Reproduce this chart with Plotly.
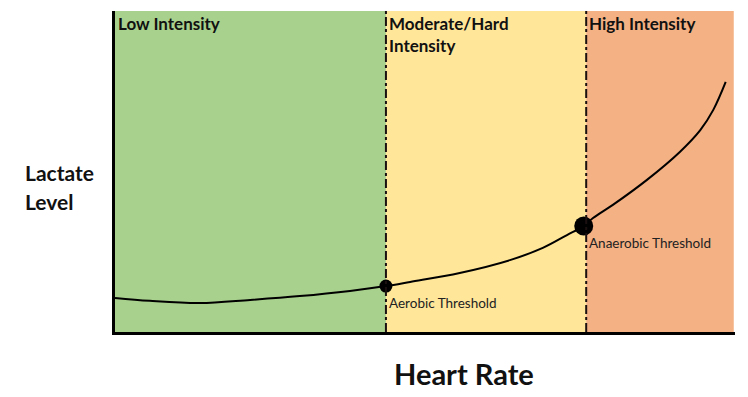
import plotly.graph_objects as go

# Data (heart-rate axis 0-100, lactate axis 0-100, unitless)
curve_x = [0, 5.6, 13.7, 21.8, 29.8, 37.9, 43.7, 47.6, 55.6, 63.7, 69.0, 72.9, 75.6, 77.1, 80.3, 85.8, 91.1, 94.4, 96.5, 98.5]
curve_y = [10.6, 9.7, 9.0, 10.0, 11.2, 12.8, 14.3, 15.6, 18.4, 22.4, 26.2, 30.2, 33.0, 35.5, 39.6, 47.4, 56.1, 62.9, 69.2, 77.9]
zone_edges = [0, 43.7, 76.0, 99.8]
zone_names = ["Low Intensity", "Moderate/Hard<br>Intensity", "High Intensity"]
zone_colors = ["#A9D18E", "#FFE699", "#F4B183"]
threshold_lines = [43.7, 76.0]
threshold_x = [43.7, 75.6]
threshold_y = [14.3, 33.0]
threshold_names = ["Aerobic Threshold", "Anaerobic Threshold"]
threshold_sizes = [13, 19]
y_title_lines = ["Lactate", "Level"]
x_title = "Heart Rate"

FONT = "Lato"

fig = go.Figure()
fig.add_trace(go.Scatter(x=curve_x, y=curve_y, mode="lines",
                         line=dict(color="black", width=2, shape="spline", smoothing=1.0),
                         hoverinfo="skip", showlegend=False))
fig.add_trace(go.Scatter(x=threshold_x, y=threshold_y, mode="markers",
                         marker=dict(color="black", size=threshold_sizes, symbol="circle",
                                     opacity=1, line=dict(width=0)),
                         showlegend=False))

shapes = []
for i, c in enumerate(zone_colors):
    shapes.append(dict(type="rect", xref="x", yref="y", x0=zone_edges[i], x1=zone_edges[i + 1],
                       y0=0, y1=100, fillcolor=c, line=dict(width=0), layer="below"))
for tx in threshold_lines:
    shapes.append(dict(type="line", xref="x", yref="y", x0=tx, x1=tx, y0=0, y1=100,
                       line=dict(color="#1a1010", width=2, dash="dashdot"), layer="above"))

annotations = []
for i, name in enumerate(zone_names):
    annotations.append(dict(x=zone_edges[i], y=100, xref="x", yref="y", text=name,
                            showarrow=False, xanchor="left", yanchor="top", align="left",
                            xshift=1, yshift=0,
                            font=dict(family=FONT, size=17, color="#111111", weight="bold")))
for tx, ty, name in zip(threshold_lines, threshold_y, threshold_names):
    annotations.append(dict(x=tx, y=ty, xref="x", yref="y", text=name, showarrow=False,
                            xanchor="left", yanchor="top", xshift=1, yshift=-7,
                            font=dict(family=FONT, size=13.5, color="#222222")))
for j, line in enumerate(y_title_lines):
    annotations.append(dict(x=-0.148, y=0.498 - j * 0.09, xref="paper", yref="paper", text=line,
                            showarrow=False, xanchor="left", yanchor="middle", align="left",
                            font=dict(family=FONT, size=21, color="#111111", weight="bold")))
annotations.append(dict(x=0.563, y=-0.13, xref="paper", yref="paper", text=x_title,
                        showarrow=False, xanchor="center", yanchor="middle",
                        font=dict(family=FONT, size=29, color="#111111", weight="bold")))

fig.update_layout(
    width=748, height=397,
    margin=dict(l=115, r=13, t=11, b=65),
    plot_bgcolor="white", paper_bgcolor="white",
    shapes=shapes, annotations=annotations,
    xaxis=dict(range=[0, 100], showgrid=False, zeroline=False, showticklabels=False,
               ticks="", showline=True, linecolor="black", linewidth=3),
    yaxis=dict(range=[0, 100], showgrid=False, zeroline=False, showticklabels=False,
               ticks="", showline=True, linecolor="black", linewidth=3),
)
fig.write_html("out.html", config={"displayModeBar": False},
               post_script="document.body.style.margin='0';")
